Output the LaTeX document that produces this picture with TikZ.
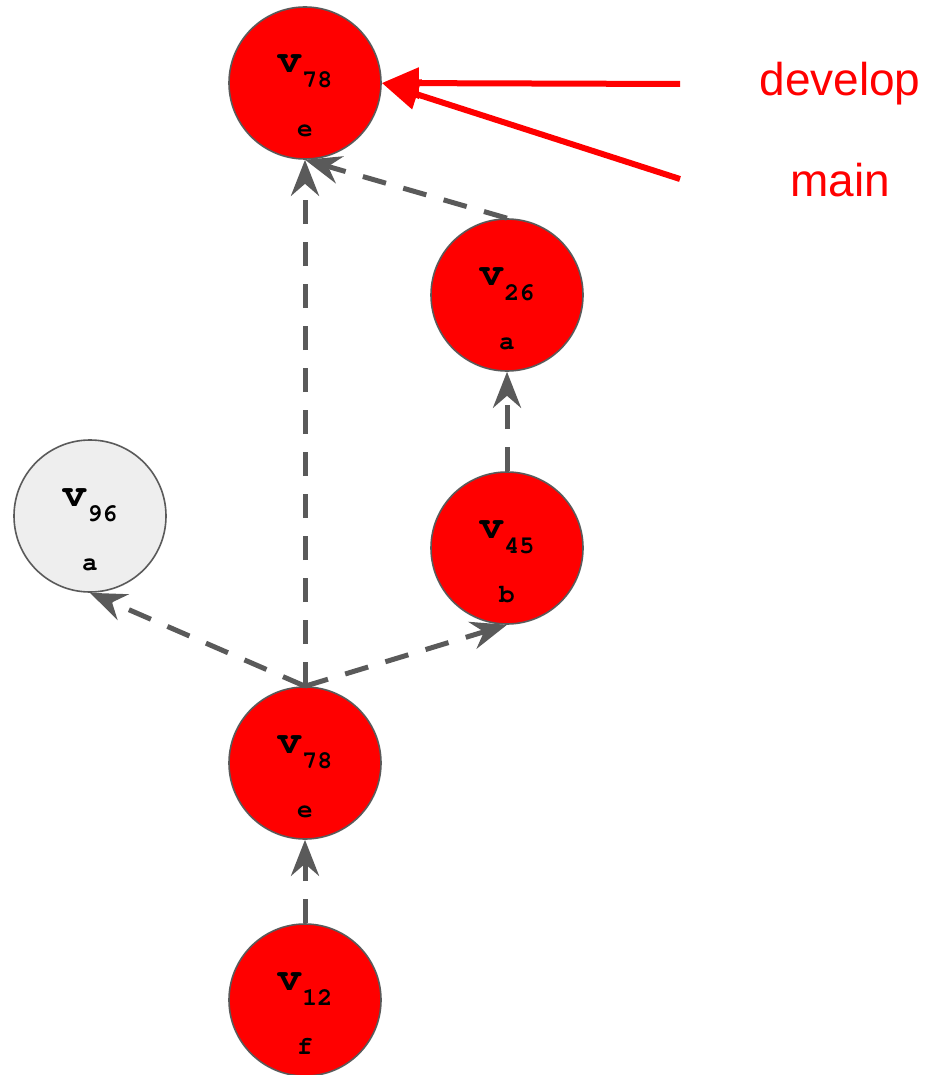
\documentclass[tikz,border=0pt]{standalone}
\usepackage{fontspec}
\setmainfont{Liberation Sans}
\newfontfamily\cmono{texgyrecursor}[Extension=.otf,UprightFont=*-regular,BoldFont=*-bold]
\usetikzlibrary{arrows.meta}
\definecolor{edgegray}{HTML}{5A5A5A}
\definecolor{lightfill}{HTML}{EEEEEE}
\definecolor{brightred}{HTML}{FF0000}
\newcommand\commitnode[6]{%
  \node[cnode,fill=#6] (#1) at (#2,#3) {};
  \node[vtxt] (#1v) at ({#2},{#3-10}) {{\cmono\bfseries\fontsize{41}{41}\selectfont v}\raisebox{-15pt}{\cmono\bfseries\fontsize{25}{25}\selectfont #4}};
  \node[ltxt] (#1l) at ({#2},{#3+54}) {\cmono\bfseries\fontsize{26}{26}\selectfont #5};
}
\begin{document}
\begin{tikzpicture}[x=1pt,y=-1pt,
  cnode/.style={circle,draw=edgegray,line width=1.6pt,minimum size=152pt,inner sep=0pt},
  vtxt/.style={anchor=base,inner sep=0pt},
  ltxt/.style={anchor=base,inner sep=0pt},
  edge/.style={draw=edgegray,line width=5pt,dash pattern=on 24pt off 18pt,
    -{Stealth[length=36pt,width=28pt,inset=12pt]}},
  branch/.style={draw=brightred,line width=6pt,-{Triangle[length=37pt,width=30pt]}},
  blabel/.style={text=brightred,font=\fontsize{46}{46}\selectfont,inner sep=0pt}]
\useasboundingbox (0,0) rectangle (931,1075);
\commitnode{top}{305}{83}{78}{e}{brightred}
\commitnode{c26}{507}{295}{26}{a}{brightred}
\commitnode{c96}{90}{516}{96}{a}{lightfill}
\commitnode{c45}{507}{548}{45}{b}{brightred}
\commitnode{mid}{305}{763}{78}{e}{brightred}
\commitnode{c12}{305}{1000}{12}{f}{brightred}
\draw[edge] (c12.north) -- (mid.south);
\draw[edge] (mid.north) -- (top.south);
\draw[edge] (mid.north) -- (c96.south);
\draw[edge] (mid.north) -- (c45.south);
\draw[edge] (c45.north) -- (c26.south);
\draw[edge] (c26.north) -- (top.south);
\node[blabel] (dev) at (840,84) {develop};
\node[blabel] (mainl) at (840,180) {main};
\coordinate (devs) at (680,84);
\coordinate (mains) at (680,179);
\draw[branch] (devs) -- (top.east);
\draw[branch] (mains) -- (top.east);
\end{tikzpicture}
\end{document}
